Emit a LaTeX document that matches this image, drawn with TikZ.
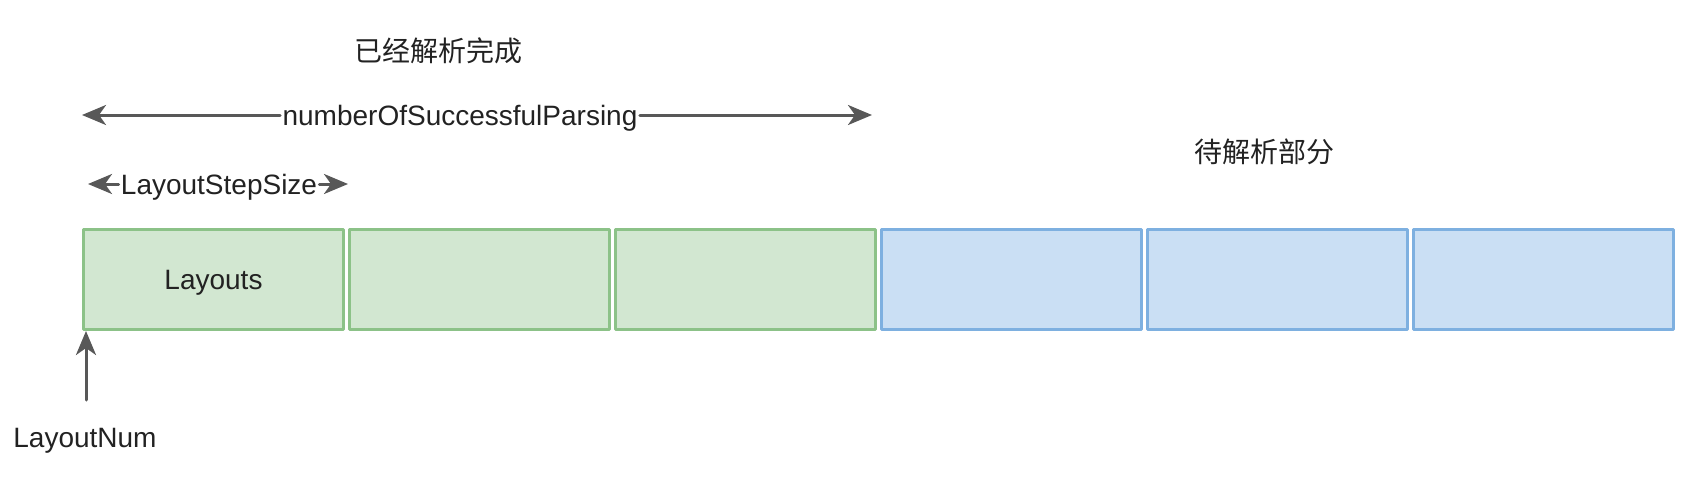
\documentclass[tikz,border=0pt]{standalone}
\usepackage{fontspec}
\setmainfont{Liberation Sans}
\newfontfamily\cjk{Noto Sans CJK SC}
\usetikzlibrary{arrows.meta}
\definecolor{doneFill}{HTML}{D2E7D1}
\definecolor{doneLine}{HTML}{8CC288}
\definecolor{todoFill}{HTML}{CADFF4}
\definecolor{todoLine}{HTML}{7EB0E0}
\definecolor{arrowGray}{HTML}{585858}
\definecolor{textGray}{HTML}{222222}
\tikzset{
	donebox/.style={draw=doneLine, fill=doneFill, line width=1.5pt, minimum width=130pt, minimum height=50pt, inner sep=0pt},
	todobox/.style={draw=todoLine, fill=todoFill, line width=1.5pt, minimum width=130pt, minimum height=50pt, inner sep=0pt},
	measure/.style={draw=arrowGray, line width=1.5pt, -{Stealth[length=12pt, width=10pt, inset=3.5pt]}},
	label/.style={inner sep=1pt, text depth=0pt}
}
\begin{document}
\begin{tikzpicture}[x=0.5pt, y=0.5pt, line cap=round, line join=round, font=\fontsize{14pt}{16pt}\selectfont, text=textGray]
			% Khung ảnh (đơn vị px)
			\useasboundingbox (0,0) rectangle (1688,484);
			
			% Các ô Layouts: 3 ô đã giải mã, 3 ô chờ giải mã
			\node[donebox, text depth=0pt] (L1) at (213.5,204.5) {Layouts};
			\node[donebox] (L2) at (479.5,204.5) {};
			\node[donebox] (L3) at (745.5,204.5) {};
			\node[todobox] (L4) at (1011.5,204.5) {};
			\node[todobox] (L5) at (1277.5,204.5) {};
			\node[todobox] (L6) at (1543.5,204.5) {};
			
			% Nhãn hai phần
			\node (done) at (438,433) {\cjk 已经解析完成};
			\node (todo) at (1264,332) {\cjk 待解析部分};
			
			% Mũi tên numberOfSuccessfulParsing
			\coordinate (pL) at (82,369);
			\coordinate (pR) at (872,369);
			\node[label] (parsed) at (460,369) {numberOfSuccessfulParsing};
			\draw[measure] (parsed) -- (pL);
			\draw[measure] (parsed) -- (pR);
			
			% Mũi tên LayoutStepSize
			\coordinate (sL) at (88,300);
			\coordinate (sR) at (348,300);
			\node[label] (step) at (219,300) {LayoutStepSize};
			\draw[measure] (step) -- (sL);
			\draw[measure] (step) -- (sR);
			
			% Mũi tên LayoutNum chỉ vào ô đầu tiên
			\node[label] (num) at (85,46) {LayoutNum};
			\coordinate (nTail) at (86,84);
			\draw[measure] (nTail) -- (nTail |- L1.south);
		\end{tikzpicture}
\end{document}
